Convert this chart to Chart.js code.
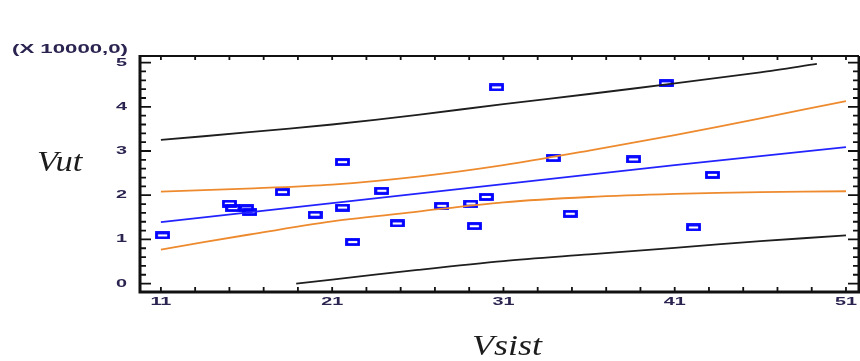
<!DOCTYPE html>
<html>
<head>
<meta charset="utf-8">
<script src="https://cdn.jsdelivr.net/npm/chart.js@4.4.1/dist/chart.umd.min.js"></script>
<style>
  html, body { margin: 0; padding: 0; background: #fff; }
  #wrap { position: relative; width: 860px; height: 361px; overflow: hidden; }
  canvas { position: absolute; left: 0; top: 0; }
  .lbl { position: absolute; white-space: nowrap; transform-origin: 0 0; }
  #mult { left: 12px; top: 42px; font: bold 12px "Liberation Sans", Arial, sans-serif; color: #2b2450; transform: scaleX(1.85); }
  #ytitle { left: 37px; top: 144px; font: italic 30px "Liberation Serif", "DejaVu Serif", serif; color: #1c1c1c; transform: scaleX(1.15); }
  #xtitle { left: 472px; top: 328px; font: italic 30px "Liberation Serif", "DejaVu Serif", serif; color: #1c1c1c; transform: scaleX(1.2); }
</style>
</head>
<body>
<div id="wrap">
  <canvas id="chart" width="866" height="361"></canvas>
  <div class="lbl" id="mult">(X 10000,0)</div>
  <div class="lbl" id="ytitle">Vut</div>
  <div class="lbl" id="xtitle">Vsist</div>
</div>
<script>
/* data (y in units of 10000) */
const vsist = [11.1, 15.0, 15.2, 16.0, 16.2, 18.1, 20.0, 21.6, 21.6, 22.2, 23.9, 24.8,
               27.4, 29.1, 29.3, 30.0, 30.6, 33.9, 34.9, 38.6, 40.5, 42.1, 43.2];
const vut   = [1.09, 1.81, 1.71, 1.70, 1.62, 2.07, 1.56, 2.75, 1.72, 0.94, 2.10, 1.36,
               1.76, 1.81, 1.30, 1.96, 4.44, 2.84, 1.58, 2.81, 4.53, 1.27, 2.46];

const fitX = [11, 21, 31, 41, 51];
const fitY = [1.39, 1.82, 2.25, 2.68, 3.09];

const bandX     = [11, 16, 21, 26, 31, 36, 41, 46, 51];
const confUpper = [2.08, 2.15, 2.24, 2.42, 2.68, 3.01, 3.36, 3.74, 4.13];
const confLower = [0.77, 1.10, 1.41, 1.63, 1.84, 1.96, 2.03, 2.07, 2.09];

const predUpX = [11, 16, 21, 26, 31, 36, 41, 46, 49.3];
const predUpY = [3.25, 3.42, 3.60, 3.82, 4.06, 4.29, 4.53, 4.78, 4.97];
const predLoX = [18.9, 21, 26, 31, 36, 41, 46, 51];
const predLoY = [0.0, 0.09, 0.31, 0.51, 0.66, 0.81, 0.96, 1.09];

const xTicks = [11, 21, 31, 41, 51];
const yTicks = [0, 1, 2, 3, 4, 5];

const pts = (xs, ys) => xs.map((x, i) => ({ x: x, y: ys[i] }));

// hollow rectangle marker
const marker = document.createElement("canvas");
marker.width = 15; marker.height = 8;
(function () {
  const c = marker.getContext("2d");
  c.strokeStyle = "#0000ff";
  c.lineWidth = 2.8;
  c.strokeRect(1.5, 1.5, 12, 5);
})();

// frame, inward ticks and stretched tick labels
const framePlugin = {
  id: "frame",
  afterDraw(chart) {
    const { ctx, chartArea: a, scales: { x, y } } = chart;
    ctx.save();
    ctx.strokeStyle = "#111";
    ctx.lineWidth = 3;
    ctx.beginPath();
    ctx.moveTo(a.left, a.top - 1); ctx.lineTo(a.left, a.bottom);
    ctx.lineTo(a.right, a.bottom); ctx.lineTo(a.right, a.top);
    ctx.stroke();
    ctx.lineWidth = 2;
    ctx.beginPath();
    ctx.moveTo(a.left, a.top); ctx.lineTo(a.right, a.top);
    ctx.stroke();
    ctx.lineWidth = 1.8;
    ctx.beginPath();
    for (let v = 11; v <= 51.01; v += 2) {
      const px = x.getPixelForValue(v);
      ctx.moveTo(px, a.bottom); ctx.lineTo(px, a.bottom - 5);
      ctx.moveTo(px, a.top); ctx.lineTo(px, a.top + 4);
    }
    for (let i = 0; i <= 25; i++) {
      const py = y.getPixelForValue(i * 0.2);
      const len = i % 5 === 0 ? 11 : 6;
      ctx.moveTo(a.left, py); ctx.lineTo(a.left + len, py);
      ctx.moveTo(a.right, py); ctx.lineTo(a.right - len, py);
    }
    ctx.stroke();

    ctx.fillStyle = "#2b2450";
    ctx.font = "bold 11px 'Liberation Sans'";
    ctx.textBaseline = "middle";
    const sx = 1.8;
    xTicks.forEach(v => {
      const px = x.getPixelForValue(v);
      ctx.save();
      ctx.translate(px, a.bottom + 10);
      ctx.scale(sx, 1);
      ctx.textAlign = "center";
      ctx.fillText(String(v), 0, 0);
      ctx.restore();
    });
    yTicks.forEach(v => {
      const py = y.getPixelForValue(v);
      ctx.save();
      ctx.translate(a.left - 13, py);
      ctx.scale(sx, 1);
      ctx.textAlign = "right";
      ctx.fillText(String(v), 0, 0);
      ctx.restore();
    });
    ctx.restore();
  }
};

const lineDs = (data, color, w) => ({
  type: "line", data: data, borderColor: color, borderWidth: w,
  pointRadius: 0, fill: false, tension: 0.3
});

new Chart(document.getElementById("chart"), {
  type: "scatter",
  data: {
    datasets: [
      lineDs(pts(predUpX, predUpY), "#1e1e1e", 1.8),
      lineDs(pts(predLoX, predLoY), "#1e1e1e", 1.8),
      lineDs(pts(bandX, confUpper), "#ee8a2e", 1.8),
      lineDs(pts(bandX, confLower), "#ee8a2e", 1.8),
      lineDs(pts(fitX, fitY), "#2323ff", 1.8),
      {
        type: "scatter",
        data: pts(vsist, vut),
        pointStyle: marker,
        pointRadius: 6,
        pointHoverRadius: 6
      }
    ]
  },
  options: {
    responsive: false,
    animation: false,
    layout: { padding: { top: 56, right: 5, left: 0, bottom: 0 } },
    plugins: { legend: { display: false }, tooltip: { enabled: false } },
    scales: {
      x: {
        type: "linear", min: 9.78, max: 51.76,
        afterBuildTicks: s => { s.ticks = xTicks.map(v => ({ value: v })); },
        afterFit: s => { s.height = 69; },
        grid: { display: false, drawTicks: false },
        border: { display: false },
        ticks: { display: false }
      },
      y: {
        type: "linear", min: -0.19, max: 5.15,
        afterBuildTicks: s => { s.ticks = yTicks.map(v => ({ value: v })); },
        afterFit: s => { s.width = 140; },
        grid: { display: false, drawTicks: false },
        border: { display: false },
        ticks: { display: false }
      }
    }
  },
  plugins: [framePlugin]
});
</script>
</body>
</html>
